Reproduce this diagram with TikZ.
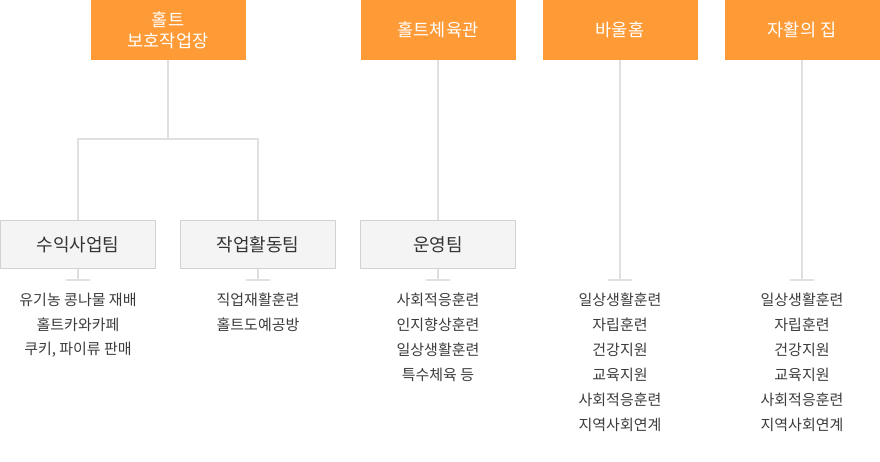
\documentclass[tikz,border=0pt]{standalone}
\usepackage{fontspec}
\setmainfont{Noto Sans CJK KR}
\usepackage{tikz}
\usetikzlibrary{positioning, calc}
\usepackage{xcolor}
\definecolor{headorange}{RGB}{255,155,55}
\definecolor{linegray}{RGB}{224,224,224}
\definecolor{boxgray}{RGB}{244,244,244}
\definecolor{boxline}{RGB}{210,210,210}
\definecolor{bodytext}{RGB}{60,60,60}

\begin{document}
\begin{tikzpicture}[x=1pt, y=-1pt,
  head/.style={fill=headorange, text=white, minimum width=155pt, minimum height=60pt,
    inner sep=0pt, align=center, font=\fontsize{17.5}{21}\selectfont},
  team/.style={fill=boxgray, draw=boxline, line width=1pt, minimum width=155pt,
    minimum height=48pt, inner sep=0pt, text=black!80, font=\fontsize{18}{20}\selectfont},
  conn/.style={linegray, line width=2pt},
  item/.style={text=bodytext, inner sep=0pt, font=\fontsize{15}{18}\selectfont}]
  \useasboundingbox (0,0) rectangle (880,462);
  % top boxes
  \node[head] (hwork) at (168,30) {홀트\\보호작업장};
  \node[head] (hgym) at (438,30) {홀트체육관};
  \node[head] (hpaul) at (620,30) {바울홈};
  \node[head] (hself) at (802,30) {자활의 집};
  % teams
  \node[team] (tincome) at (78,244.5) {수익사업팀};
  \node[team] (tactive) at (258,244.5) {작업활동팀};
  \node[team] (trun) at (438,244.5) {운영팀};
  \draw[conn] (hwork.south) -- ++(0,79) -| (tincome.north);
  \draw[conn] (hwork.south) -- ++(0,79) -| (tactive.north);
  \draw[conn] (hgym.south) -- (trun.north);
  % ticks
  \coordinate (k1) at (78,280);
  \coordinate (k2) at (258,280);
  \coordinate (k3) at (438,280);
  \coordinate (k4) at (620,280);
  \coordinate (k5) at (802,280);
  \draw[conn] (tincome.south) -- (k1);
  \draw[conn] (tactive.south) -- (k2);
  \draw[conn] (trun.south) -- (k3);
  \draw[conn] (hpaul.south) -- (k4);
  \draw[conn] (hself.south) -- (k5);
  \foreach \k in {k1,k2,k3,k4,k5}
    \draw[conn] ([xshift=-12pt]\k) -- ([xshift=12pt]\k);
  % lists
  \foreach \t [count=\i] in {유기농 콩나물 재배, 홀트카와카페, {쿠키, 파이류 판매}}
    \node[item] (la\i) at (78,275+25*\i) {\t};
  \foreach \t [count=\i] in {직업재활훈련, 홀트도예공방}
    \node[item] (lb\i) at (258,275+25*\i) {\t};
  \foreach \t [count=\i] in {사회적응훈련, 인지향상훈련, 일상생활훈련, 특수체육 등}
    \node[item] (lc\i) at (438,275+25*\i) {\t};
  \foreach \t [count=\i] in {일상생활훈련, 자립훈련, 건강지원, 교육지원, 사회적응훈련, 지역사회연계}
    \node[item] (ld\i) at (620,275+25*\i) {\t};
  \foreach \t [count=\i] in {일상생활훈련, 자립훈련, 건강지원, 교육지원, 사회적응훈련, 지역사회연계}
    \node[item] (le\i) at (802,275+25*\i) {\t};
\end{tikzpicture}
\end{document}
